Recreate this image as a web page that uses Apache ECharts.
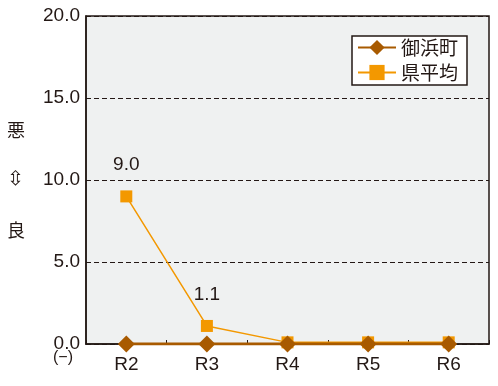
<!DOCTYPE html>
<html><head><meta charset="utf-8">
<script src="https://cdn.jsdelivr.net/npm/echarts@6/dist/echarts.min.js"></script>
<style>html,body{margin:0;padding:0;background:#fff}#c{width:498px;height:386px}</style>
</head><body><div id="c"></div>
<script>
const categories = ['R2', 'R3', 'R4', 'R5', 'R6'];
const mihamaValues = [0.0, 0.0, 0.0, 0.0, 0.0];
const prefValues = [9.0, 1.1, 0.1, 0.1, 0.1];
const prefLabelShown = [true, true, false, false, false];
const yTicks = [0, 5, 10, 15, 20];
const seriesNames = ['御浜町', '県平均'];

const ink = '#231815';
const numFont = '"Liberation Sans", Arial, sans-serif';
const cjkFont = '"Noto Sans CJK JP", sans-serif';

const chart = echarts.init(document.getElementById('c'), null, {renderer: 'canvas'});
chart.setOption({
  animation: false,
  backgroundColor: '#ffffff',
  grid: {left: 86, right: 9, top: 16, bottom: 42, show: true,
         backgroundColor: '#eff1f1', borderColor: ink, borderWidth: 1.5},
  legend: {
    data: seriesNames, orient: 'vertical', left: 352, top: 36,
    backgroundColor: '#ffffff', borderColor: ink, borderWidth: 1.5,
    padding: [2, 9, 3, 5], itemGap: 6, itemWidth: 38, itemHeight: 19,
    textStyle: {fontFamily: cjkFont, fontSize: 19, color: ink}
  },
  xAxis: {
    type: 'category', data: categories, boundaryGap: true,
    axisLine: {lineStyle: {color: ink, width: 1.5}},
    axisTick: {show: true, inside: true, length: 4, lineStyle: {color: ink, width: 1}},
    axisLabel: {fontFamily: numFont, fontSize: 19, color: ink, margin: 11}
  },
  yAxis: {
    type: 'value', min: yTicks[0], max: yTicks[yTicks.length - 1], interval: yTicks[1] - yTicks[0],
    axisLine: {show: true, lineStyle: {color: ink, width: 1.5}},
    axisTick: {show: false},
    axisLabel: {fontFamily: numFont, fontSize: 19, color: ink, margin: 6,
                formatter: v => v.toFixed(1)},
    splitLine: {show: true, lineStyle: {color: ink, width: 1, type: [5, 3]}}
  },
  series: [
    {
      name: seriesNames[1], type: 'line',
      data: prefValues.map((v, i) => ({value: v, label: {show: prefLabelShown[i]}})),
      symbol: 'rect', symbolSize: 12,
      itemStyle: {color: '#f39800'},
      lineStyle: {color: '#f39800', width: 1.5},
      label: {position: 'top', distance: 16, fontFamily: numFont, fontSize: 19, color: ink,
              formatter: p => p.value.toFixed(1)},
      z: 2
    },
    {
      name: seriesNames[0], type: 'line', data: mihamaValues,
      symbol: 'diamond', symbolSize: 17,
      itemStyle: {color: '#a85a00'},
      lineStyle: {color: '#a85a00', width: 3},
      z: 3
    }
  ],
  graphic: [
    {type: 'text', left: 7, top: 121, style: {text: '悪', font: '18px ' + cjkFont, fill: ink}},
    {type: 'text', left: 7, top: 170, style: {text: '⇳', font: '20px "DejaVu Sans", sans-serif', fill: ink}},
    {type: 'text', left: 7, top: 221, style: {text: '良', font: '18px ' + cjkFont, fill: ink}},
    {type: 'text', left: 53, top: 350, style: {text: '(−)', font: '16px ' + numFont, fill: ink}}
  ]
});
</script></body></html>
